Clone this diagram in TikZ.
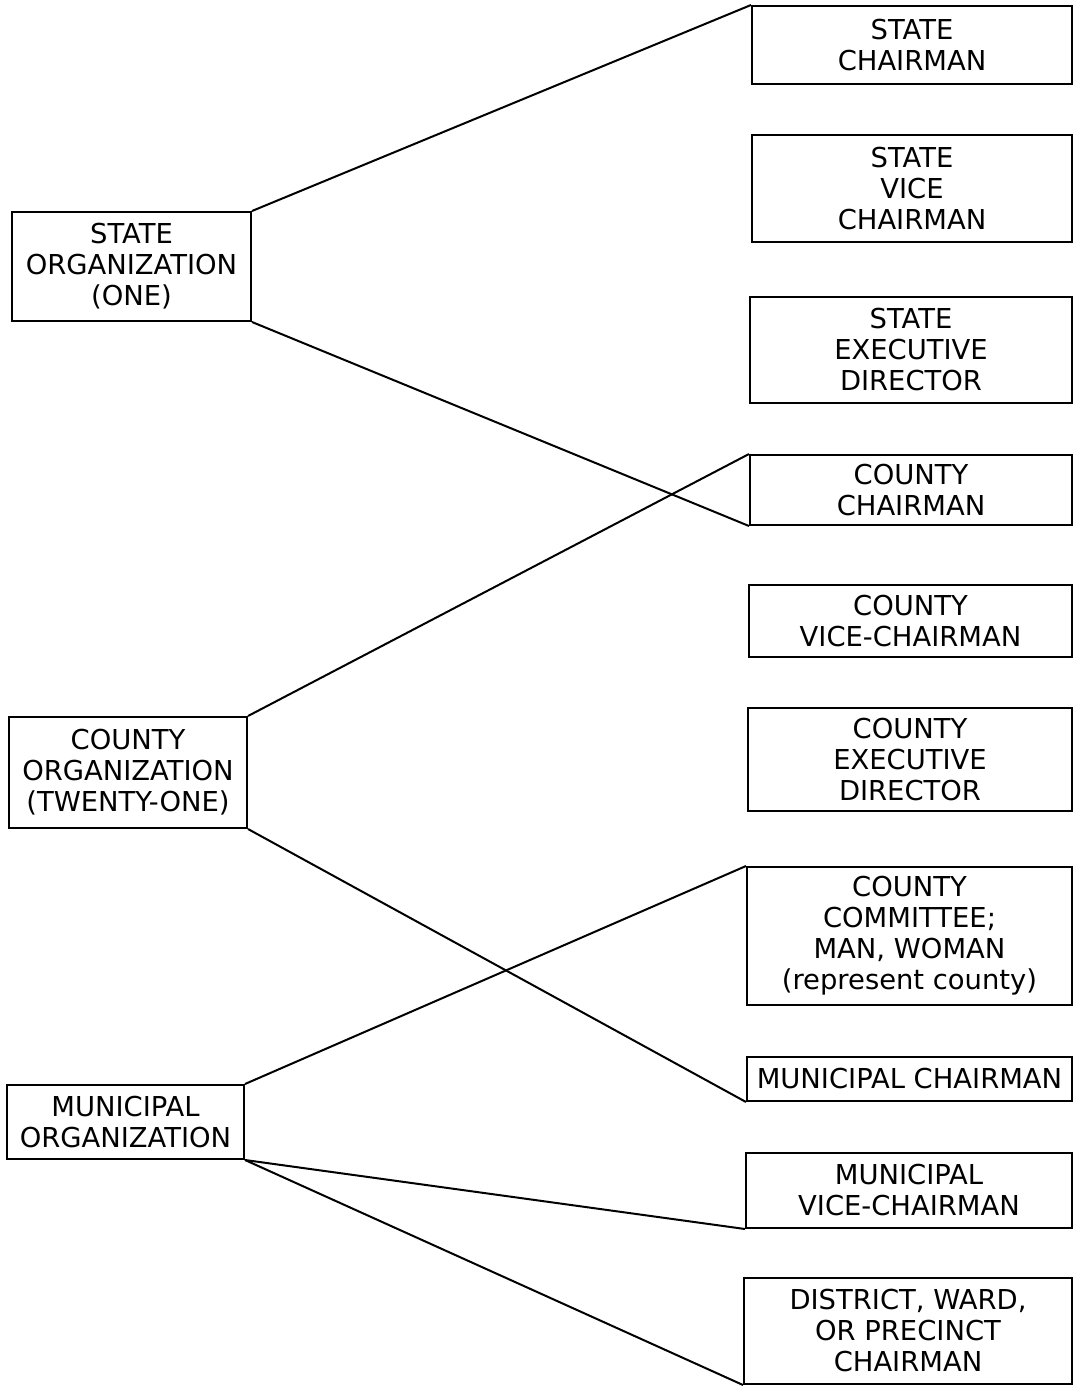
\documentclass[tikz,border=0pt]{standalone}
\usepackage{fontspec}
\setmainfont{DejaVu Sans}
\usepackage{tikz}
\usetikzlibrary{calc}
\usetikzlibrary{positioning}

\begin{document}
\begin{tikzpicture}[x=0.5pt, y=-0.5pt]

    \tikzstyle{blk} = [rectangle, draw=black, line width=1pt, inner sep=0pt, anchor=north west, align=center, font=\fontsize{13.7}{15.5}\selectfont]
    \tikzstyle{line} = [line width=1pt]

    \useasboundingbox (0,0) rectangle (1073,1386);

    % Organizations (left column) %%%%%%%%%%%%%%%%%%%%%%%%%%%%%%%%%%%%%%%%%%%%%%%%%%%%%%%
    \node[blk, minimum width=119.5pt, minimum height=54.5pt] (orgS) at (11,211)  {STATE\\ORGANIZATION\\(ONE)};
    \node[blk, minimum width=119pt,   minimum height=55.5pt] (orgC) at (8,716)   {COUNTY\\ORGANIZATION\\(TWENTY-ONE)};
    \node[blk, minimum width=118.5pt, minimum height=37pt]   (orgM) at (6,1084)  {MUNICIPAL\\ORGANIZATION};

    % Offices (right column) %%%%%%%%%%%%%%%%%%%%%%%%%%%%%%%%%%%%%%%%%%%%%%%%%%%%%%%%%%%%
    \node[blk, minimum width=160pt,   minimum height=39pt]   (boxS1) at (751,5)    {STATE\\CHAIRMAN};
    \node[blk, minimum width=160pt,   minimum height=53.5pt] (boxS2) at (751,134)  {STATE\\VICE\\CHAIRMAN};
    \node[blk, minimum width=161pt,   minimum height=53pt]   (boxS3) at (749,296)  {STATE\\EXECUTIVE\\DIRECTOR};
    \node[blk, minimum width=161pt,   minimum height=35pt]   (boxC1) at (749,454)  {COUNTY\\CHAIRMAN};
    \node[blk, minimum width=161.5pt, minimum height=36pt]   (boxC2) at (748,584)  {COUNTY\\VICE-CHAIRMAN};
    \node[blk, minimum width=162pt,   minimum height=51.5pt] (boxC3) at (747,707)  {COUNTY\\EXECUTIVE\\DIRECTOR};
    \node[blk, minimum width=162.5pt, minimum height=69pt]   (boxC4) at (746,866)  {COUNTY\\COMMITTEE;\\MAN, WOMAN\\(represent county)};
    \node[blk, minimum width=162.5pt, minimum height=22pt]   (boxM1) at (746,1056) {MUNICIPAL CHAIRMAN};
    \node[blk, minimum width=163pt,   minimum height=37.5pt] (boxM2) at (745,1152) {MUNICIPAL\\VICE-CHAIRMAN};
    \node[blk, minimum width=164pt,   minimum height=53pt]   (boxM3) at (743,1277) {DISTRICT, WARD,\\OR PRECINCT\\CHAIRMAN};

    % Now link the nodes %%%%%%%%%%%%%%%%%%%%%%%%%%%%%%%%%%%%%%%%%%%%%%%%%%%%%%%%%%%%%%%%
    \draw [line] (orgS.north east) -- (boxS1.north west);
    \draw [line] (orgS.south east) -- (boxC1.south west);

    \draw [line] (orgC.north east) -- (boxC1.north west);
    \draw [line] (orgC.south east) -- (boxM1.south west);

    \draw [line] (orgM.north east) -- (boxC4.north west);
    \draw [line] (orgM.south east) -- (boxM2.south west);
    \draw [line] (orgM.south east) -- (boxM3.south west);

\end{tikzpicture}
\end{document}
